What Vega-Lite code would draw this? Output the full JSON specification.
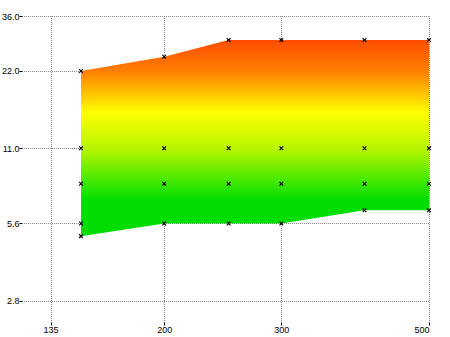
{
  "$schema": "https://vega.github.io/schema/vega-lite/v6.json",
  "width": 407,
  "height": 306,
  "autosize": "none",
  "padding": {"left": 22, "top": 16, "right": 21, "bottom": 15},
  "background": "white",
  "config": {
    "view": {"stroke": null},
    "axis": {
      "grid": true,
      "gridColor": "#858585",
      "gridDash": [1, 1],
      "gridDashOffset": 0.5,
      "gridWidth": 1,
      "domain": false,
      "ticks": true,
      "tickColor": "black",
      "tickSize": 3,
      "tickWidth": 1,
      "labelFont": "Liberation Sans",
      "labelFontSize": 9,
      "labelColor": "black",
      "labelPadding": 0,
      "title": null,
      "zindex": 1
    }
  },
  "datasets": {
    "band": [
      {"x": 150, "lo": 5, "hi": 22},
      {"x": 200, "lo": 5.6, "hi": 25},
      {"x": 250, "lo": 5.6, "hi": 29},
      {"x": 300, "lo": 5.6, "hi": 29},
      {"x": 400, "lo": 6.3, "hi": 29},
      {"x": 500, "lo": 6.3, "hi": 29}
    ],
    "pts": [
      {"x": 150, "y": 22}, {"x": 150, "y": 11}, {"x": 150, "y": 8}, {"x": 150, "y": 5.6}, {"x": 150, "y": 5},
      {"x": 200, "y": 25}, {"x": 200, "y": 11}, {"x": 200, "y": 8}, {"x": 200, "y": 5.6},
      {"x": 250, "y": 29}, {"x": 250, "y": 11}, {"x": 250, "y": 8}, {"x": 250, "y": 5.6},
      {"x": 300, "y": 29}, {"x": 300, "y": 11}, {"x": 300, "y": 8}, {"x": 300, "y": 5.6},
      {"x": 400, "y": 29}, {"x": 400, "y": 11}, {"x": 400, "y": 8}, {"x": 400, "y": 6.3},
      {"x": 500, "y": 29}, {"x": 500, "y": 11}, {"x": 500, "y": 8}, {"x": 500, "y": 6.3}
    ]
  },
  "layer": [
    {
      "data": {"name": "band"},
      "mark": {
        "type": "area",
        "opacity": 1,
        "color": {
          "gradient": "linear",
          "x1": 0, "y1": 1, "x2": 0, "y2": 0,
          "stops": [
            {"offset": 0, "color": "#00dd00"},
            {"offset": 0.18, "color": "#00dd00"},
            {"offset": 0.28, "color": "#44e800"},
            {"offset": 0.44, "color": "#b4f500"},
            {"offset": 0.63, "color": "#ffff00"},
            {"offset": 0.84, "color": "#ff8000"},
            {"offset": 1, "color": "#ff4c00"}
          ]
        }
      },
      "encoding": {
        "x": {
          "field": "x", "type": "quantitative",
          "scale": {"type": "log", "domain": [122.3, 500], "nice": false},
          "axis": {"values": [135, 200, 300, 500], "format": "d"}
        },
        "y": {
          "field": "lo", "type": "quantitative",
          "scale": {"type": "log", "domain": [2.315, 36], "nice": false},
          "axis": {"values": [2.8, 5.6, 11, 22, 36], "format": ".1f"}
        },
        "y2": {"field": "hi"}
      }
    },
    {
      "data": {"name": "pts"},
      "mark": {
        "type": "point",
        "shape": "M-1,-1L1,1M-1,1L1,-1",
        "size": 14,
        "filled": false,
        "stroke": "black",
        "strokeWidth": 1.1,
        "opacity": 1
      },
      "encoding": {
        "x": {"field": "x", "type": "quantitative"},
        "y": {"field": "y", "type": "quantitative"}
      }
    },
    {
      "mark": {"type": "rule", "color": "black", "strokeWidth": 1.3},
      "encoding": {
        "x": {"datum": 122.3, "type": "quantitative"},
        "y": {"datum": 2.8, "type": "quantitative"},
        "y2": {"datum": 36}
      }
    },
    {
      "mark": {"type": "rule", "color": "black", "strokeWidth": 1.3},
      "encoding": {
        "y": {"datum": 2.315, "type": "quantitative"},
        "x": {"datum": 135, "type": "quantitative"},
        "x2": {"datum": 500}
      }
    }
  ]
}
